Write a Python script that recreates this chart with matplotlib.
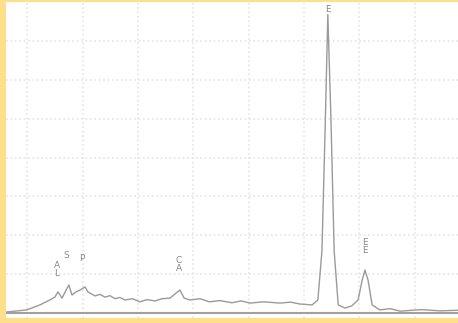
import numpy as np
import matplotlib.pyplot as plt

# spectrum (energy in keV, counts in % of full scale)
energy = [0.0, 0.46, 0.75, 0.97, 1.08, 1.15, 1.24, 1.33, 1.39, 1.46, 1.55, 1.64, 1.75,
          1.81, 1.97, 2.08, 2.19, 2.30, 2.41, 2.52, 2.63, 2.80, 2.96, 3.12, 3.30, 3.45,
          3.63, 3.76, 3.85, 3.94, 4.07, 4.29, 4.50, 4.73, 5.00, 5.20, 5.40, 5.70, 6.06,
          6.30, 6.50, 6.77, 6.90, 6.99, 7.06, 7.12, 7.19, 7.26, 7.35, 7.50,
          7.65, 7.79, 7.88, 7.94, 8.01, 8.10, 8.27, 8.50, 8.72, 9.20, 9.60, 10.0]
counts = [0.3, 1.0, 2.6, 4.2, 5.1, 6.8, 4.8, 7.4, 9.0, 5.8, 6.8, 7.4, 8.4,
          6.8, 5.5, 6.0, 5.1, 5.6, 4.6, 5.0, 4.2, 4.6, 3.6, 4.3, 3.9, 4.6,
          4.8, 6.4, 7.4, 4.8, 4.2, 4.6, 3.6, 4.0, 3.3, 3.9, 3.2, 3.6, 3.2,
          3.5, 2.9, 2.6, 4.2, 20.0, 59.0, 96.0, 62.0, 20.0, 2.6, 1.6,
          2.3, 4.2, 10.6, 13.8, 10.6, 2.6, 1.0, 1.4, 0.6, 1.1, 0.7, 0.9]

peak_labels = ["A\nL", "S", "P", "C\nA", "E", "E\nE"]
label_x = [1.12, 1.33, 1.68, 3.83, 7.12, 7.94]
label_y = [14.0, 18.5, 17.5, 15.5, 97.5, 21.5]

fig = plt.figure(figsize=(4.58, 3.23), dpi=100, facecolor='#ffdf8a')
ax = fig.add_axes([6/458, 5/323, 452/458, 316/323])
ax.set_facecolor('white')

ax.plot(energy, counts, color='#9a9a9a', linewidth=1.0)
ax.axhline(0, color='#a0a0a0', linewidth=1.5)

for lab, x, y in zip(peak_labels, label_x, label_y):
    ax.text(x, y, lab, ha='center', va='center', fontsize=6.5, color='#888888',
            linespacing=0.9)

ax.set_xlim(0, 10)
ax.set_ylim(-1.6, 100)
ax.set_xticks(np.arange(0.47, 10, 1.225))
ax.set_yticks(np.arange(0, 100, 12.5))
ax.grid(True, color='#e4e4e4', linestyle=':', linewidth=1.2)
ax.tick_params(length=0, labelbottom=False, labelleft=False)
for s in ax.spines.values():
    s.set_visible(False)

fig.savefig('out.png', dpi=100, facecolor=fig.get_facecolor())
